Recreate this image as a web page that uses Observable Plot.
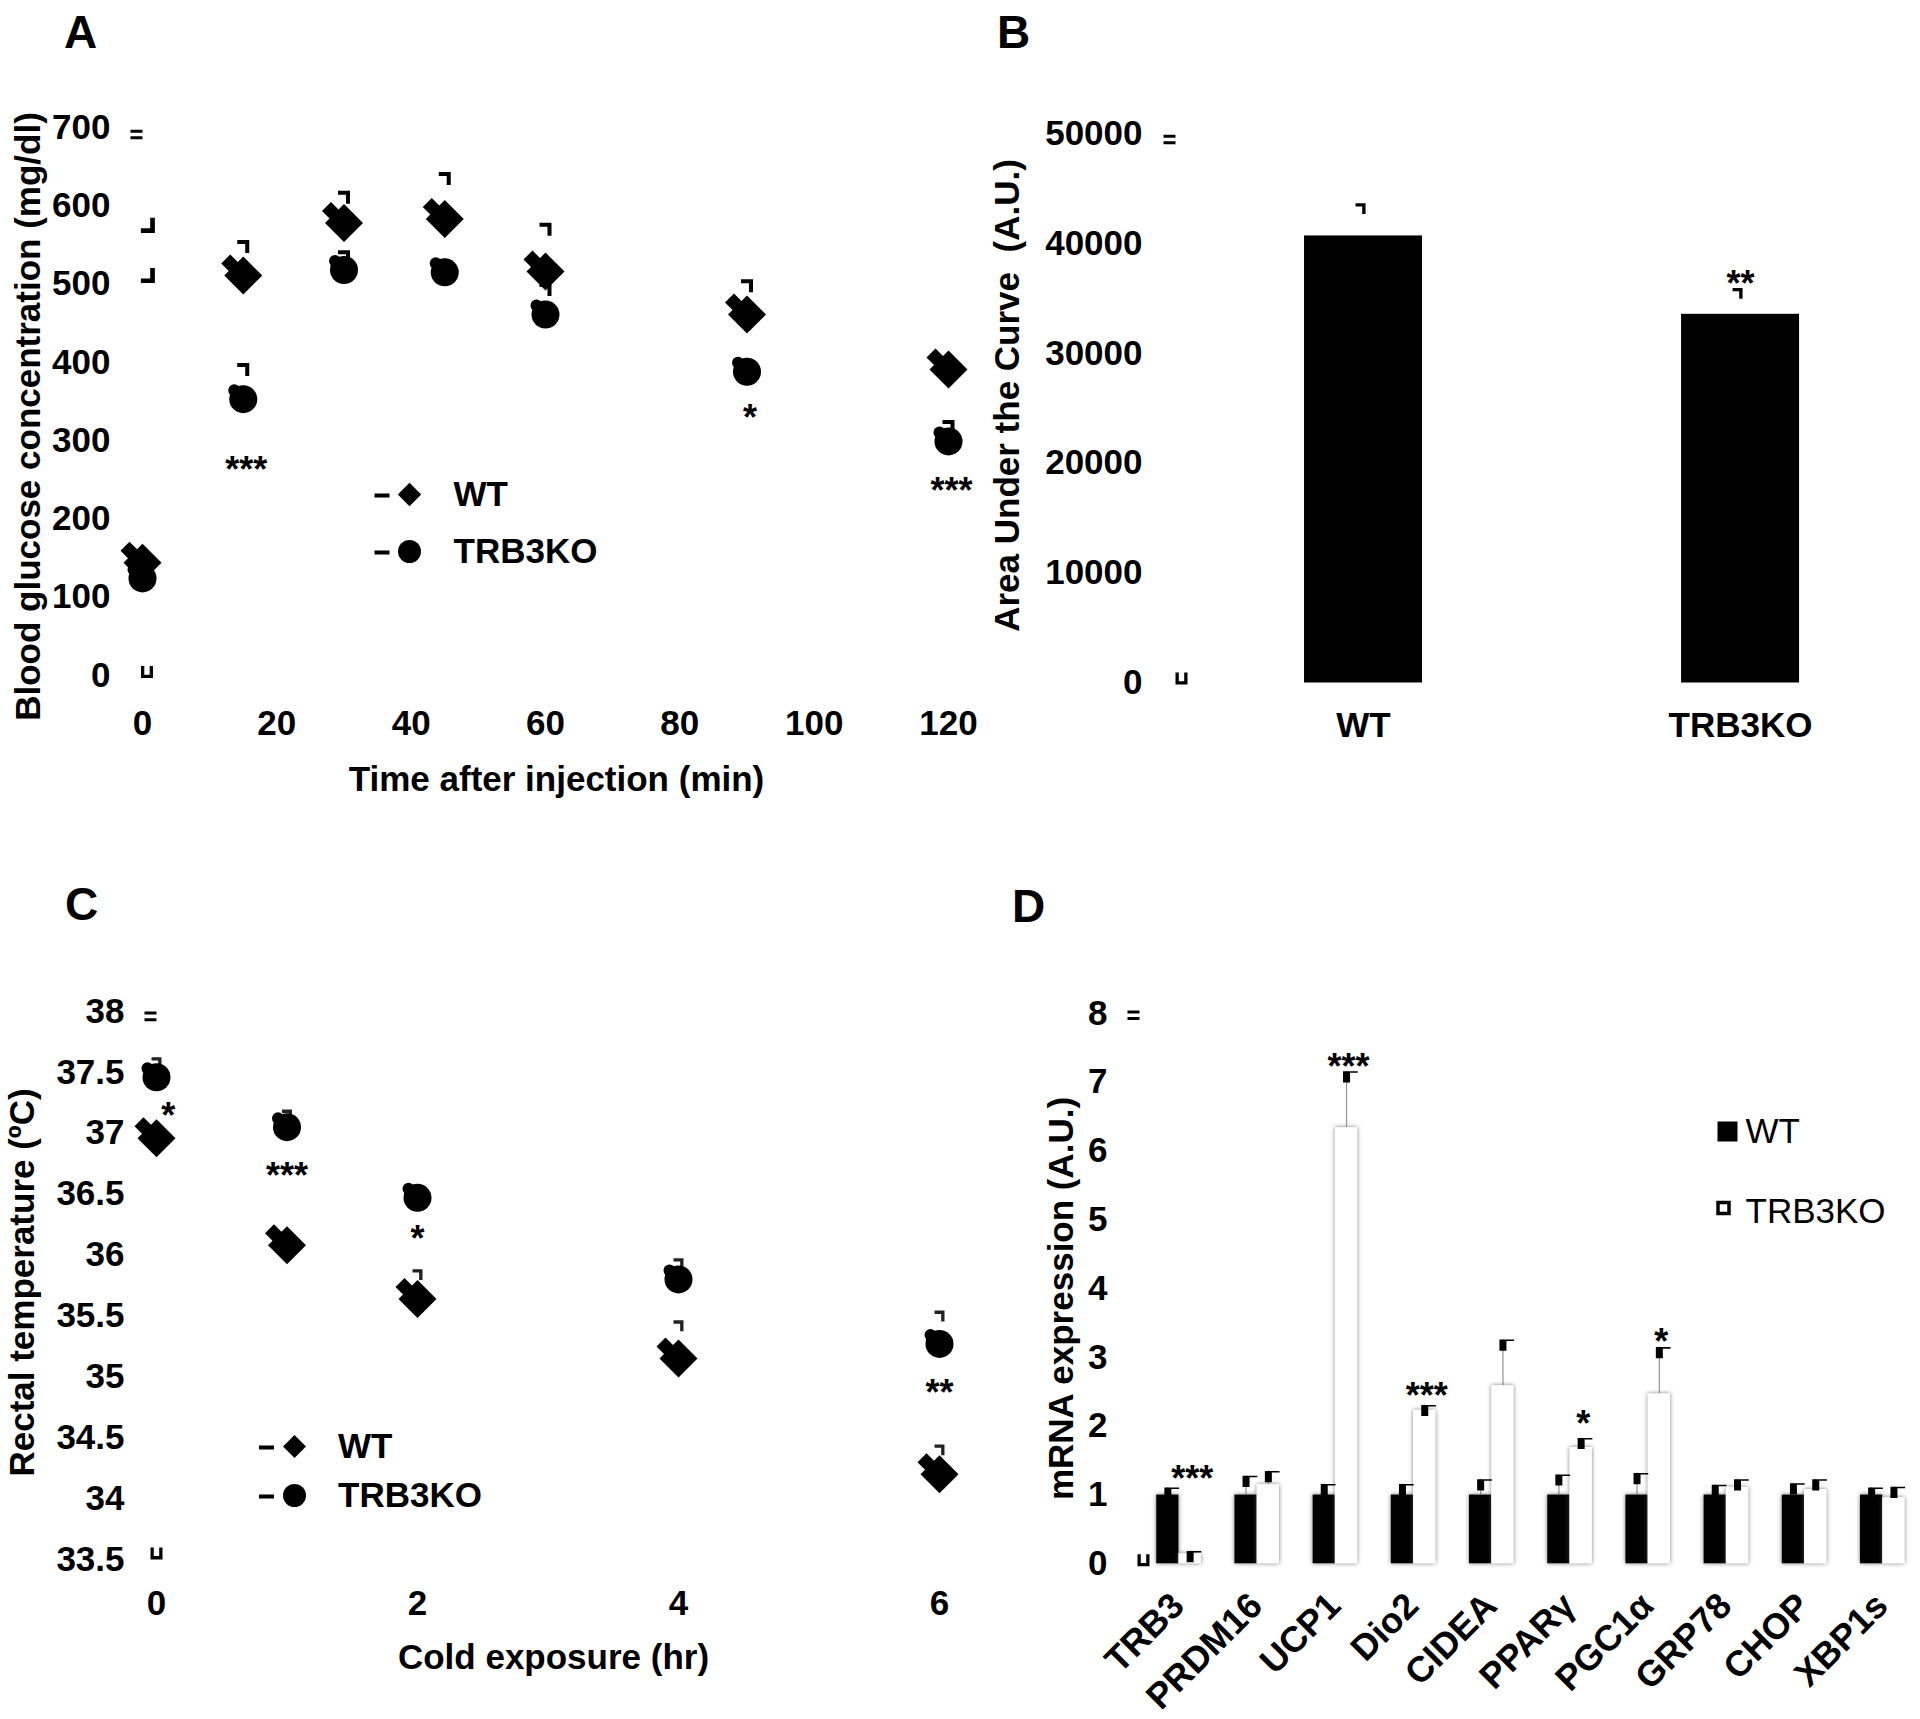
<!DOCTYPE html>
<html><head><meta charset="utf-8">
<script src="https://cdn.jsdelivr.net/npm/d3@7"></script>
<script src="https://cdn.jsdelivr.net/npm/@observablehq/plot@0.6"></script>
<style>
html,body{margin:0;padding:0;background:#fff;}
#fig{position:relative;width:1920px;height:1719px;overflow:hidden;background:#fff;}
</style></head><body><div id="fig"></div>
<script>
// ---------------- data ----------------
const legendLabels = ["WT", "TRB3KO"];

// Panel A: glucose tolerance
const timesA = [0, 15, 30, 45, 60, 90, 120];
const wtA = [144, 511, 578, 583, 516, 461, 391];
const koA = [124, 353, 518, 515, 461, 388, 299];
const wtCapA = [null, 548, 611, 635, 570, 498, null];
const koCapA = [null, 391, 535, null, 493, null, 318];
const oddCapTimesA = [0.8, 0.8];
const oddCapValuesA = [575, 511];
const starTimesA = [15, 90, 120];
const starValuesA = [274, 340, 246];
const starLabelsA = ["***", "*", "***"];
const xTicksA = [0, 20, 40, 60, 80, 100, 120];
const yTicksA = [0, 100, 200, 300, 400, 500, 600, 700];
const axisEndA = [{t: -0.9, v: 691, k: "eq"}, {t: 0.67, v: 4.5, k: "cup"}];

// Panel B: AUC
const groupsB = ["WT", "TRB3KO"];
const aucB = [40680, 33550];
const aucCapB = [43170, 35450];
const starLabelsB = ["", "**"];
const starValuesB = [null, 37110];
const yTicksB = [0, 10000, 20000, 30000, 40000, 50000];
const axisEndB = [{v: 49450, k: "eq"}, {v: 410, k: "cup"}];

// Panel C: rectal temperature
const timesC = [0, 1, 2, 4, 6];
const wtC = [36.96, 36.08, 35.64, 35.15, 34.20];
const koC = [37.46, 37.05, 36.47, 35.80, 35.27];
const wtCapC = [null, null, 35.84, 35.42, 34.40];
const koCapC = [37.58, 37.15, null, 35.93, 35.50];
const starTimesC = [0.09, 1, 2, 6];
const starValuesC = [37.21, 36.72, 36.20, 34.94];
const starLabelsC = ["*", "***", "*", "**"];
const xTicksC = [0, 2, 4, 6];
const yTicksC = [33.5, 34, 34.5, 35, 35.5, 36, 36.5, 37, 37.5, 38];
const axisEndC = [{t: -0.046, v: 37.96, k: "eq"}, {t: 0, v: 33.55, k: "cup"}];

// Panel D: mRNA expression
const genes = ["TRB3", "PRDM16", "UCP1", "Dio2", "CIDEA", "PPARγ", "PGC1α", "GRP78", "CHOP", "XBP1s"];
const wtD = [1, 1, 1, 1, 1, 1, 1, 1, 1, 1];
const wtErrD = [0.11, 0.28, 0.16, 0.16, 0.23, 0.30, 0.32, 0.15, 0.17, 0.11];
const koD = [0.145, 1.15, 6.34, 2.23, 2.59, 1.69, 2.47, 1.11, 1.08, 0.96];
const koErrD = [0.04, 0.20, 0.82, 0.08, 0.67, 0.14, 0.68, 0.12, 0.15, 0.16];
const starGenesD = ["TRB3", "UCP1", "Dio2", "PPARγ", "PGC1α"];
const starValuesD = [1.35, 7.35, 2.56, 2.16, 3.35];
const starLabelsD = ["***", "***", "***", "*", "*"];
const yTicksD = [0, 1, 2, 3, 4, 5, 6, 7, 8];
const axisEndD = [{v: 7.975, k: "eq"}, {v: 0.05, k: "cup"}];

// ---------------- tables ----------------
const tableA = timesA.map((t, i) => ({t, wt: wtA[i], ko: koA[i], wtCap: wtCapA[i], koCap: koCapA[i]}));
const capsA = tableA.filter(d => d.wtCap != null).map(d => ({t: d.t, v: d.wtCap}))
  .concat(tableA.filter(d => d.koCap != null).map(d => ({t: d.t, v: d.koCap})));
const oddCapsA = oddCapTimesA.map((t, i) => ({t, v: oddCapValuesA[i]}));
const starsA = starTimesA.map((t, i) => ({t, v: starValuesA[i], s: starLabelsA[i]}));

const tableB = groupsB.map((g, i) => ({g, v: aucB[i], cap: aucCapB[i], s: starLabelsB[i], sv: starValuesB[i]}));

const tableC = timesC.map((t, i) => ({t, wt: wtC[i], ko: koC[i], wtCap: wtCapC[i], koCap: koCapC[i]}));
const capsC = tableC.filter(d => d.wtCap != null).map(d => ({t: d.t, v: d.wtCap}))
  .concat(tableC.filter(d => d.koCap != null).map(d => ({t: d.t, v: d.koCap})));
const starsC = starTimesC.map((t, i) => ({t, v: starValuesC[i], s: starLabelsC[i]}));

const tableD = genes.map((g, i) => ({gene: g, wt: wtD[i], wtTop: wtD[i] + wtErrD[i], ko: koD[i], koTop: koD[i] + koErrD[i]}));
const starsD = starGenesD.map((g, i) => ({gene: g, v: starValuesD[i], s: starLabelsD[i]}));

// ---------------- symbols ----------------
function sym(fn) { return {draw(ctx, size) { fn(ctx, Math.sqrt(size / Math.PI)); }}; }
function rect(c, x, y, w, h) { c.moveTo(x, y); c.lineTo(x + w, y); c.lineTo(x + w, y + h); c.lineTo(x, y + h); c.closePath(); }
const diamond = sym((c, r) => { c.moveTo(0, -r); c.lineTo(r, 0); c.lineTo(0, r); c.lineTo(-r, 0); c.closePath(); });
const capR = sym((c, r) => { rect(c, -r, -r * 1.08, 2 * r, r * 0.67); rect(c, r * 0.33, -r * 1.08, r * 0.67, r * 2.17); });
const capL = sym((c, r) => { rect(c, r * 0.33, -r * 1.08, r * 0.67, r * 2.17); rect(c, -r, r * 0.42, 2 * r, r * 0.67); });
const capD = sym((c, r) => { rect(c, -r * 0.5, 0, r, r * 1.6); rect(c, -r * 0.5, 0, r * 2.1, r * 0.22); });
const eq = sym((c, r) => { rect(c, -r, -r * 0.8, 2 * r, r * 0.5); rect(c, -r, r * 0.3, 2 * r, r * 0.5); });
const cup = sym((c, r) => { rect(c, -r, -r, r * 0.55, 2 * r); rect(c, r * 0.45, -r, r * 0.55, 2 * r); rect(c, -r, r * 0.45, 2 * r, r * 0.55); });
const dash = sym((c, r) => { rect(c, -r, -r * 0.27, 2 * r, r * 0.54); });
const square = sym((c, r) => { rect(c, -r, -r, 2 * r, 2 * r); });
const endSym = {eq, cup};

// ---------------- layout helpers ----------------
const FONT = '"Liberation Sans", Arial, Helvetica, sans-serif';
const STAR = {fontSize: 36, fontWeight: "bold", fill: "black"};
const fig = document.getElementById("fig");
function place(svg, left, top) {
  svg.style.position = "absolute";
  svg.style.left = left + "px";
  svg.style.top = top + "px";
  fig.appendChild(svg);
}
function baseStyle() {
  return {fontFamily: FONT, fontSize: "35px", fontWeight: "bold", color: "#000", background: "none", overflow: "visible"};
}
function label(text, opts) { return Plot.text([text], {text: d => d, fill: "black", textAnchor: "middle", ...opts}); }

// ---------------- Panel A ----------------
{
  const fx = 142, fy = 127;
  const svg = Plot.plot({
    width: 980, height: 820, marginLeft: fx, marginRight: 32, marginTop: fy, marginBottom: 145,
    style: baseStyle(),
    x: {domain: [0, 120], label: null},
    y: {domain: [0, 700], label: null},
    marks: [
      Plot.axisY({ticks: yTicksA, tickSize: 0, tickPadding: 32, label: null}),
      Plot.axisX({ticks: xTicksA, tickSize: 0, tickPadding: 35, label: null}),
      ...axisEndA.map(d => Plot.dot([d], {x: "t", y: "v", symbol: endSym[d.k], r: 6, fill: "black", stroke: "none"})),
      Plot.dot(capsA, {x: "t", y: "v", symbol: capR, r: 6, fill: "black", stroke: "none"}),
      Plot.dot(oddCapsA, {x: "t", y: "v", symbol: capL, r: 7, fill: "black", stroke: "none"}),
      Plot.dot(tableA, {x: "t", y: "wt", symbol: diamond, r: 9, dx: -13, dy: -12, fill: "black", stroke: "none"}),
      Plot.dot(tableA, {x: "t", y: "wt", symbol: diamond, r: 19, fill: "black", stroke: "none"}),
      Plot.dot(tableA, {x: "t", y: "ko", r: 6, dx: -9, dy: -9, fill: "black", stroke: "none"}),
      Plot.dot(tableA, {x: "t", y: "ko", r: 14, fill: "black", stroke: "none"}),
      Plot.text(starsA, {x: "t", y: "v", text: "s", dx: 3, dy: 9, ...STAR}),
      // legend
      Plot.dot([0], {frameAnchor: "top-left", dx: 381.5 - fx, dy: 495 - fy, symbol: dash, r: 7.5, fill: "black"}),
      Plot.dot([0], {frameAnchor: "top-left", dx: 409 - fx, dy: 494 - fy, symbol: diamond, r: 11.7, fill: "black"}),
      label(legendLabels[0], {frameAnchor: "top-left", dx: 453 - fx, dy: 494 - fy, textAnchor: "start", lineAnchor: "middle"}),
      Plot.dot([0], {frameAnchor: "top-left", dx: 381.5 - fx, dy: 552 - fy, symbol: dash, r: 7.5, fill: "black"}),
      Plot.dot([0], {frameAnchor: "top-left", dx: 409 - fx, dy: 551 - fy, r: 11.5, fill: "black", stroke: "none"}),
      label(legendLabels[1], {frameAnchor: "top-left", dx: 453 - fx, dy: 551 - fy, textAnchor: "start", lineAnchor: "middle"}),
      // titles
      label("Time after injection (min)", {frameAnchor: "bottom", dx: 11, dy: 104, lineAnchor: "middle"}),
      label("Blood glucose concentration (mg/dl)", {frameAnchor: "left", rotate: -90, dx: 28 - fx, dy: 15, lineAnchor: "middle"}),
      label("A", {frameAnchor: "top-left", dx: 80 - fx, dy: 33 - fy, fontSize: 46, lineAnchor: "middle"})
    ]
  });
  place(svg, 0, 0);
}

// ---------------- Panel B ----------------
{
  const fx = 190, fy = 133;
  const svg = Plot.plot({
    width: 940, height: 820, marginLeft: fx, marginRight: 0, marginTop: fy, marginBottom: 137.5,
    style: baseStyle(),
    x: {type: "band", domain: groupsB, range: [190.2, 952.9], paddingInner: 0.687, paddingOuter: 0.355, round: false, label: null},
    y: {domain: [0, 50000], label: null},
    marks: [
      Plot.axisY({ticks: yTicksB, tickSize: 0, tickPadding: 28, tickFormat: "d", label: null}),
      Plot.axisX({tickSize: 0, tickPadding: 29, label: null}),
      ...axisEndB.map((d, i) => Plot.dot([d], {y: "v", frameAnchor: "left", dx: i === 0 ? -1 : 11, symbol: endSym[d.k], r: 6, fill: "black", stroke: "none"})),
      Plot.barY(tableB, {x: "g", y: "v", fill: "black"}),
      Plot.dot(tableB, {x: "g", y: "cap", symbol: capR, r: 5, dx: -3, fill: "black", stroke: "none"}),
      Plot.text(tableB.filter(d => d.sv != null), {x: "g", y: "sv", text: "s", dy: 9, ...STAR}),
      label("Area Under the Curve  (A.U.)", {frameAnchor: "left", rotate: -90, dx: 27 - fx, dy: -12.75, lineAnchor: "middle"}),
      label("B", {frameAnchor: "top-left", dx: 33 - fx, dy: 33 - fy, fontSize: 46, lineAnchor: "middle"})
    ]
  });
  place(svg, 980, 0);
}

// ---------------- Panel C ----------------
{
  const fx = 156, fy = 151;
  const svg = Plot.plot({
    width: 980, height: 859, marginLeft: fx, marginRight: 41, marginTop: fy, marginBottom: 160,
    style: baseStyle(),
    x: {domain: [0, 6], label: null},
    y: {domain: [33.5, 38], label: null},
    marks: [
      Plot.axisY({ticks: yTicksC, tickSize: 0, tickPadding: 32, tickFormat: d => String(d), label: null}),
      Plot.axisX({ticks: xTicksC, tickSize: 0, tickPadding: 31, tickFormat: d => String(d), label: null}),
      ...axisEndC.map(d => Plot.dot([d], {x: "t", y: "v", symbol: endSym[d.k], r: 6, fill: "black", stroke: "none"})),
      Plot.dot(capsC, {x: "t", y: "v", symbol: capR, r: 5, fill: "#222", stroke: "none"}),
      Plot.dot(tableC, {x: "t", y: "wt", symbol: diamond, r: 9, dx: -13, dy: -12, fill: "black", stroke: "none"}),
      Plot.dot(tableC, {x: "t", y: "wt", symbol: diamond, r: 19, fill: "black", stroke: "none"}),
      Plot.dot(tableC, {x: "t", y: "ko", r: 6, dx: -9, dy: -9, fill: "black", stroke: "none"}),
      Plot.dot(tableC, {x: "t", y: "ko", r: 14, fill: "black", stroke: "none"}),
      Plot.text(starsC, {x: "t", y: "v", text: "s", dy: 9, ...STAR}),
      // legend
      Plot.dot([0], {frameAnchor: "top-left", dx: 266 - fx, dy: 587 - fy, symbol: dash, r: 7.5, fill: "black"}),
      Plot.dot([0], {frameAnchor: "top-left", dx: 294 - fx, dy: 586 - fy, symbol: diamond, r: 11.5, fill: "black"}),
      label(legendLabels[0], {frameAnchor: "top-left", dx: 337.5 - fx, dy: 586 - fy, textAnchor: "start", lineAnchor: "middle"}),
      Plot.dot([0], {frameAnchor: "top-left", dx: 266 - fx, dy: 636 - fy, symbol: dash, r: 7.5, fill: "black"}),
      Plot.dot([0], {frameAnchor: "top-left", dx: 294 - fx, dy: 635 - fy, r: 11.5, fill: "black", stroke: "none"}),
      label(legendLabels[1], {frameAnchor: "top-left", dx: 337.5 - fx, dy: 635.6 - fy, textAnchor: "start", lineAnchor: "middle"}),
      label("Cold exposure (hr)", {frameAnchor: "bottom", dx: 5.5, dy: 98, lineAnchor: "middle"}),
      label("Rectal temperature (ºC)", {frameAnchor: "left", rotate: -90, dx: 22 - fx, dy: -3, lineAnchor: "middle"}),
      label("C", {frameAnchor: "top-left", dx: 81 - fx, dy: 45 - fy, fontSize: 46, lineAnchor: "middle"})
    ]
  });
  place(svg, 0, 860);
}

// ---------------- Panel D ----------------
{
  const fx = 153, fy = 153;
  const half = 11.15;
  const svg = Plot.plot({
    width: 940, height: 859, marginLeft: fx, marginRight: 0, marginTop: fy, marginBottom: 155.7,
    style: baseStyle(),
    x: {type: "band", domain: genes, range: [152.74, 948.04], paddingInner: 0.4297, paddingOuter: 0.3, round: false, label: null, axis: null},
    y: {domain: [0, 8], label: null},
    marks: [
      Plot.axisY({ticks: yTicksD, tickSize: 0, tickPadding: 26, tickFormat: "d", label: null}),
      ...axisEndD.map((d, i) => Plot.dot([d], {y: "v", frameAnchor: "left", dx: i === 0 ? 0 : 10, symbol: endSym[d.k], r: 6, fill: "black", stroke: "none"})),
      Plot.ruleX(tableD, {x: "gene", y1: "wt", y2: "wtTop", dx: -half, stroke: "#9a9a9a", strokeWidth: 1.3}),
      Plot.ruleX(tableD, {x: "gene", y1: "ko", y2: "koTop", dx: half, stroke: "#9a9a9a", strokeWidth: 1.3}),
      Plot.barY(tableD, {x: "gene", y: "wt", fill: "black", insetRight: 2 * half}),
      Plot.barY(tableD, {x: "gene", y: "ko", fill: "white", insetLeft: 2 * half}),
      Plot.dot(tableD, {x: "gene", y: "wtTop", dx: -half, symbol: capD, r: 7, fill: "black", stroke: "none"}),
      Plot.dot(tableD, {x: "gene", y: "koTop", dx: half, symbol: capD, r: 7, fill: "black", stroke: "none"}),
      Plot.text(starsD, {x: "gene", y: "v", text: "s", dx: half + 2, dy: 9, ...STAR}),
      Plot.text(genes, {x: d => d, text: d => d, frameAnchor: "bottom", rotate: -45, textAnchor: "end", lineAnchor: "middle", dx: -1, dy: 36, fontSize: 36, fill: "black"}),
      // legend
      Plot.dot([0], {frameAnchor: "top-left", dx: 747 - fx, dy: 271 - fy, symbol: square, r: 10, fill: "black"}),
      label(legendLabels[0], {frameAnchor: "top-left", dx: 765 - fx, dy: 271.7 - fy, textAnchor: "start", lineAnchor: "middle", fontWeight: "normal"}),
      Plot.dot([0], {frameAnchor: "top-left", dx: 743 - fx, dy: 347.5 - fy, symbol: square, r: 5.5, fill: "white", stroke: "black", strokeWidth: 3.5}),
      label(legendLabels[1], {frameAnchor: "top-left", dx: 765 - fx, dy: 351.7 - fy, textAnchor: "start", lineAnchor: "middle", fontWeight: "normal"}),
      label("mRNA expression (A.U.)", {frameAnchor: "left", rotate: -90, dx: 81 - fx, dy: 9.8, lineAnchor: "middle"}),
      label("D", {frameAnchor: "top-left", dx: 48 - fx, dy: 46.5 - fy, fontSize: 46, lineAnchor: "middle"})
    ]
  });
  const ns = "http://www.w3.org/2000/svg";
  const defs = document.createElementNS(ns, "defs");
  defs.innerHTML = '<filter id="barShadow" x="-60%" y="-10%" width="220%" height="120%"><feDropShadow dx="0" dy="0" stdDeviation="2.2" flood-color="#555" flood-opacity="0.8"/></filter>';
  svg.insertBefore(defs, svg.firstChild);
  svg.querySelectorAll('g[aria-label="bar"]').forEach(g => g.setAttribute("filter", "url(#barShadow)"));
  place(svg, 980, 860);
}
</script>
</body></html>
